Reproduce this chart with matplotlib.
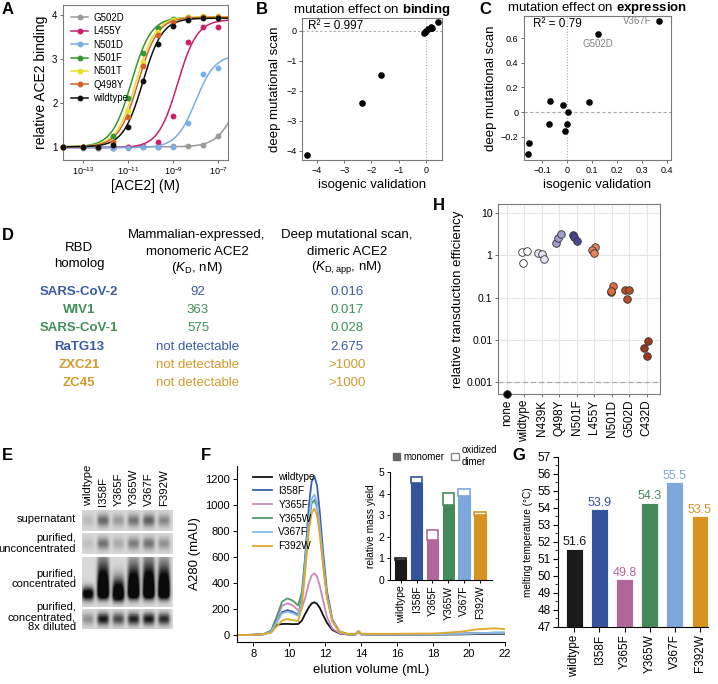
import numpy as np
import matplotlib
matplotlib.use("Agg")
import matplotlib.pyplot as plt
from matplotlib.lines import Line2D
from matplotlib.patches import Patch
from matplotlib.ticker import NullLocator, MultipleLocator

plt.rcParams['font.family'] = ['Liberation Sans', 'DejaVu Sans']
plt.rcParams['mathtext.fontset'] = 'custom'
plt.rcParams['mathtext.rm'] = 'Liberation Sans'
plt.rcParams['mathtext.it'] = 'Liberation Sans:italic'
plt.rcParams['mathtext.bf'] = 'Liberation Sans:bold'

# ---- A: titration curves ----
conc = [1.35e-14, 1e-13, 4.64e-13, 2.15e-12, 1e-11, 4.64e-11, 2.15e-10, 1e-9, 4.64e-9, 2.15e-8, 1e-7]
a_variants = ['G502D', 'L455Y', 'N501D', 'N501F', 'N501T', 'Q498Y', 'wildtype']
a_colors = ['#9a9a9a', '#cc1f6a', '#7aaee6', '#36962f', '#e6df2a', '#d2622a', '#111111']
a_binding = {
    'G502D': [1.0, 1.0, 1.0, 1.0, 1.0, 1.0, 1.0, 1.02, 1.03, 1.05, 1.25],
    'L455Y': [1.0, 1.0, 0.98, 0.98, 1.0, 1.02, 1.12, 1.7, 3.38, 3.73, 3.72],
    'N501D': [1.0, 0.98, 0.98, 0.98, 0.98, 0.99, 1.0, 1.0, 1.55, 2.65, 2.8],
    'N501F': [1.0, 1.0, 1.0, 1.25, 2.12, 3.13, 3.7, 3.9, 3.95, 3.96, 3.96],
    'N501T': [1.0, 1.0, 1.0, 1.12, 1.82, 2.93, 3.62, 3.88, 3.95, 3.97, 3.98],
    'Q498Y': [1.0, 1.0, 1.0, 1.1, 1.67, 2.83, 3.55, 3.85, 3.93, 3.95, 3.95],
    'wildtype': [1.0, 1.0, 1.0, 1.05, 1.45, 2.5, 3.35, 3.75, 3.88, 3.93, 3.93],
}
# fitted log10 K_D, bottom, top
a_fit = {
    'G502D': (-6.3, 1.0, 2.5),
    'L455Y': (-8.8, 0.98, 3.9),
    'N501D': (-8.0, 0.98, 3.1),
    'N501F': (-10.85, 1.0, 3.95),
    'N501T': (-10.65, 1.0, 3.96),
    'Q498Y': (-10.55, 1.0, 3.95),
    'wildtype': (-10.35, 1.0, 3.93),
}

# ---- B / C: scatter ----
b_iso = [-4.37, -2.34, -1.65, -0.08, -0.03, 0.02, 0.08, 0.17, 0.2, 0.23, 0.43]
b_dms = [-4.15, -2.4, -1.48, -0.06, -0.04, -0.01, 0.05, 0.1, 0.14, 0.1, 0.3]
c_iso = [0.367, 0.123, -0.071, -0.019, 0.085, 0.003, -0.073, -0.003, -0.008, -0.153, -0.157]
c_dms = [0.74, 0.637, 0.093, 0.06, 0.082, 0.0, -0.098, -0.098, -0.158, -0.253, -0.343]

# ---- D: table ----
d_homologs = ['SARS-CoV-2', 'WIV1', 'SARS-CoV-1', 'RaTG13', 'ZXC21', 'ZC45']
d_monomeric = ['92', '363', '575', 'not detectable', 'not detectable', 'not detectable']
d_dimeric = ['0.016', '0.017', '0.028', '2.675', '>1000', '>1000']
d_colors = ['#3b5ba8', '#3f8f5a', '#3f8f5a', '#3b5ba8', '#d39b2c', '#d39b2c']

# ---- E: blot band intensities ----
e_lanes = ['wildtype', 'I358F', 'Y365F', 'Y365W', 'V367F', 'F392W']
e_supernatant = [0.15, 0.55, 0.3, 0.5, 0.6, 0.4]
e_unconc = [0.12, 0.5, 0.22, 0.45, 0.5, 0.35]
e_conc = [1.2, 1.6, 1.5, 1.6, 1.6, 1.6]
e_diluted = [0.35, 0.95, 0.7, 0.9, 0.95, 0.85]
e_row_labels = ['supernatant', 'purified,\nunconcentrated', 'purified,\nconcentrated',
                'purified,\nconcentrated,\n8x diluted']

# ---- F: SEC traces + inset ----
elution = [7.0, 8.0, 8.6, 9.0, 9.3, 9.6, 9.9, 10.2, 10.5, 10.7, 10.9, 11.1, 11.25, 11.4, 11.55,
           11.7, 11.9, 12.1, 12.4, 12.8, 13.3, 13.7, 13.85, 14.0, 14.5, 16.0, 18.0, 19.5, 20.5, 21.5, 22.0]
f_traces = {
    'wildtype': [0, 2, 6, 30, 78, 85, 86, 84, 85, 110, 165, 215, 243, 252, 240, 210, 150, 95, 40, 12,
                 4, 4, 25, 5, 4, 4, 4, 5, 8, 10, 10],
    'I358F': [0, 2, 8, 25, 100, 175, 192, 180, 155, 280, 620, 1000, 1180, 1222, 1150, 950, 620, 340, 120, 28,
              6, 6, 30, 8, 6, 6, 6, 10, 15, 18, 18],
    'Y365F': [0, 2, 8, 30, 120, 225, 245, 228, 190, 205, 290, 400, 458, 475, 450, 380, 255, 140, 50, 14,
              5, 5, 28, 6, 5, 5, 6, 9, 12, 15, 15],
    'Y365W': [0, 2, 8, 35, 140, 255, 282, 265, 228, 330, 600, 880, 1010, 1040, 985, 820, 540, 300, 105, 24,
              6, 6, 30, 8, 6, 6, 6, 10, 15, 18, 18],
    'V367F': [0, 2, 8, 25, 95, 165, 180, 168, 148, 260, 560, 890, 1045, 1080, 1020, 840, 550, 300, 105, 24,
              6, 6, 30, 8, 6, 6, 6, 10, 15, 18, 18],
    'F392W': [0, 2, 8, 18, 65, 112, 123, 116, 108, 210, 500, 800, 940, 972, 920, 770, 510, 290, 110, 26,
              8, 8, 30, 10, 10, 10, 12, 25, 45, 52, 45],
}
f_line_colors = ['#111111', '#3a5fb0', '#cc88bb', '#4f9a68', '#88b8ec', '#e0a82a']
mutants = ['wildtype', 'I358F', 'Y365F', 'Y365W', 'V367F', 'F392W']
bar_colors = ['#1a1a1a', '#34539c', '#b1679d', '#45895a', '#7ea7dc', '#d69320']
yield_total = [1.0, 4.77, 2.33, 4.05, 4.22, 3.15]
yield_monomer = [0.95, 4.49, 1.86, 3.49, 3.88, 3.0]

# ---- G: melting temperature ----
tm = [51.6, 53.9, 49.8, 54.3, 55.5, 53.5]

# ---- H: transduction ----
h_cats = ['none', 'wildtype', 'N439K', 'Q498Y', 'N501F', 'L455Y', 'N501D', 'G502D', 'C432D']
h_colors = ['#000000', '#ffffff', '#e4e2f1', '#a29dd0', '#4d4597', '#e8835a', '#df6c3d', '#b54e27', '#983a1b']
h_values = [[None],
            [0.65, 1.23, 1.3],
            [1.16, 1.07, 0.81],
            [2.0, 2.57, 3.3],
            [3.1, 2.75, 2.2],
            [1.6, 1.38, 1.16],
            [0.19, 0.135, 0.14],
            [0.15, 0.15, 0.093],
            [0.0095, 0.0064, 0.0041]]
h_jitter = [[0.0], [-0.09, -0.14, 0.14], [-0.19, 0.0, 0.11], [-0.18, -0.05, 0.09], [-0.2, -0.15, 0.0],
            [0.05, -0.1, 0.0], [0.1, -0.06, -0.04], [-0.24, -0.03, -0.14], [0.1, -0.13, 0.0]]

W, H = 718, 684
fig = plt.figure(figsize=(W / 100, H / 100), dpi=100)


def box(x0, y0, x1, y1):
    return fig.add_axes([x0 / W, 1 - y1 / H, (x1 - x0) / W, (y1 - y0) / H])


def ftext(x, y, s, **kw):
    fig.text(x / W, 1 - y / H, s, **kw)


def gray_frame(ax):
    for sp in ax.spines.values():
        sp.set_color('#7a7a7a')
        sp.set_linewidth(0.8)
    ax.tick_params(length=2.5, width=0.6, color='#555555', pad=1.5)


# panel letters
for lab, x, y in [('A', 8, 9), ('B', 262, 9), ('C', 485, 10), ('D', 8, 235), ('H', 439, 206),
                  ('E', 7, 455), ('F', 206, 455), ('G', 519, 456)]:
    ftext(x, y, lab, fontsize=12, fontweight='bold', ha='center', va='center')

# ---------------- A ----------------
ax = box(63, 5, 228, 160)
xs = np.logspace(-13.89, -6.56, 300)
for name, col in zip(a_variants, a_colors):
    lk, bot, top = a_fit[name]
    ax.plot(xs, bot + (top - bot) * xs / (xs + 10 ** lk), color=col, lw=1.1, zorder=2)
    ax.plot(conc, a_binding[name], 'o', color=col, ms=3.2, clip_on=False, zorder=3)
ax.set_xscale('log')
ax.set_xlim(10 ** -13.89, 10 ** -6.56)
ax.set_ylim(0.70, 4.23)
ax.set_xticks([1e-13, 1e-11, 1e-9, 1e-7])
ax.set_xticklabels(['10$^{-13}$', '10$^{-11}$', '10$^{-9}$', '10$^{-7}$'], fontsize=6.5)
ax.xaxis.set_minor_locator(NullLocator())
ax.set_yticks([1, 2, 3, 4])
ax.tick_params(axis='y', labelsize=7)
gray_frame(ax)
ax.set_xlabel('[ACE2] (M)', fontsize=10, labelpad=1)
ax.set_ylabel('relative ACE2 binding', fontsize=10, labelpad=3)
handles = [Line2D([0], [0], color=c, marker='o', ms=3.2, lw=1.1) for c in a_colors]
ax.legend(handles, a_variants, loc='upper left', frameon=False, fontsize=7, handlelength=1.8,
          labelspacing=0.35, borderaxespad=0.4, handletextpad=0.5)

# ---------------- B ----------------
ax = box(302, 18, 442, 160)
ax.axhline(0, color='#aaaaaa', lw=0.8, ls=(0, (2, 2)), zorder=1)
ax.axvline(0, color='#aaaaaa', lw=0.8, ls=(0, (1, 1.5)), zorder=1)
ax.scatter(b_iso, b_dms, s=14, color='black', zorder=3)
ax.set_xlim(-4.55, 0.59)
ax.set_ylim(-4.3, 0.43)
ax.set_xticks([-4, -3, -2, -1, 0])
ax.set_yticks([-4, -3, -2, -1, 0])
ax.tick_params(labelsize=6.5)
gray_frame(ax)
ax.text(0.04, 0.985, 'R² = 0.997', transform=ax.transAxes, fontsize=8.5, va='top')
ax.set_title(r'mutation effect on $\mathbf{binding}$', fontsize=9.5, pad=3)
ax.set_xlabel('isogenic validation', fontsize=9.5, labelpad=3)
ax.set_ylabel('deep mutational scan', fontsize=9.5, labelpad=4)

# ---------------- C ----------------
ax = box(524, 16, 671, 160)
ax.axhline(0, color='#aaaaaa', lw=0.8, ls=(0, (3, 2)), zorder=1)
ax.axvline(0, color='#aaaaaa', lw=0.8, ls=(0, (1, 1.5)), zorder=1)
ax.scatter(c_iso, c_dms, s=14, color='black', zorder=3)
ax.set_xlim(-0.173, 0.415)
ax.set_ylim(-0.39, 0.78)
ax.set_xticks([-0.1, 0, 0.1, 0.2, 0.3, 0.4])
ax.set_xticklabels(['−0.1', '0', '0.1', '0.2', '0.3', '0.4'])
ax.set_yticks([-0.2, 0, 0.2, 0.4, 0.6])
ax.set_yticklabels(['−0.2', '0', '0.2', '0.4', '0.6'])
ax.tick_params(labelsize=6.5)
gray_frame(ax)
ax.text(c_iso[0] - 0.03, c_dms[0], 'V367F', color='#808080', fontsize=7, ha='right', va='center')
ax.text(c_iso[1], c_dms[1] - 0.045, 'G502D', color='#808080', fontsize=7, ha='center', va='top')
ax.text(0.06, 0.985, 'R² = 0.79', transform=ax.transAxes, fontsize=8.5, va='top')
ax.set_title(r'mutation effect on $\mathbf{expression}$', fontsize=9.5, pad=3)
ax.set_xlabel('isogenic validation', fontsize=9.5, labelpad=3)
ax.set_ylabel('deep mutational scan', fontsize=9.5, labelpad=3)

# ---------------- D ----------------
fs = 9.5
ftext(79, 248, 'RBD', fontsize=fs, ha='center', va='center')
ftext(79, 264, 'homolog', fontsize=fs, ha='center', va='center')
ftext(197, 235, 'Mammalian-expressed,', fontsize=fs, ha='center', va='center')
ftext(197, 252, 'monomeric ACE2', fontsize=fs, ha='center', va='center')
ftext(197, 268, r'($\it{K}_{\mathrm{D}}$, nM)', fontsize=fs, ha='center', va='center')
ftext(347, 235, 'Deep mutational scan,', fontsize=fs, ha='center', va='center')
ftext(347, 252, 'dimeric ACE2', fontsize=fs, ha='center', va='center')
ftext(347, 268, r'($\it{K}_{\mathrm{D,app}}$, nM)', fontsize=fs, ha='center', va='center')
for i, (hname, mono, dim, col) in enumerate(zip(d_homologs, d_monomeric, d_dimeric, d_colors)):
    y = 292 + i * 18.2
    ftext(79, y, hname, fontsize=fs, fontweight='bold', color=col, ha='center', va='center')
    ftext(198, y, mono, fontsize=fs, color=col, ha='center', va='center')
    ftext(347, y, dim, fontsize=fs, color=col, ha='center', va='center')

# ---------------- H ----------------
ax = box(498, 204, 660, 394)
ax.set_yscale('log')
ax.set_ylim(10 ** -3.29, 10 ** 1.22)
ax.set_xlim(-0.5, 8.76)
ax.set_yticks([10, 1, 0.1, 0.01, 0.001])
ax.set_yticklabels(['10', '1', '0.1', '0.01', '0.001'])
ax.yaxis.set_minor_locator(NullLocator())
ax.set_xticks(range(len(h_cats)))
ax.set_xticklabels(h_cats, rotation=90, fontsize=8.5)
ax.tick_params(axis='y', labelsize=7.5)
ax.grid(True, color='#e6e6e6', lw=0.8)
ax.set_axisbelow(True)
ax.axhline(0.001, color='#aaaaaa', lw=0.9, ls=(0, (4, 2.5)), zorder=1)
for i, (vals, jit, col) in enumerate(zip(h_values, h_jitter, h_colors)):
    for v, j in zip(vals, jit):
        yv = 10 ** -3.29 if v is None else v
        ax.scatter(i + j, yv, s=30, facecolor=col, edgecolor='#333333', lw=0.6, zorder=3, clip_on=False)
gray_frame(ax)
ax.set_ylabel('relative transduction efficiency', fontsize=9.5, labelpad=2)

# ---------------- E ----------------
ax = box(82, 510, 173, 629)
nrow, ncol = 119, 91
yy, xx = np.mgrid[0:nrow, 0:ncol] + 0.5
lane_x = 6 + 15.2 * np.arange(len(e_lanes))
sections = [(0, 21, e_supernatant, [0.5] * 6, [0.3] * 6, 0.3),
            (23, 44, e_unconc, [0.5] * 6, [0.3] * 6, 0.3),
            (47, 97, e_conc, [0.74, 0.72, 0.76, 0.72, 0.72, 0.72], [0.14, 0.6, 0.32, 0.55, 0.6, 0.55], 0.13),
            (99, 119, e_diluted, [0.5] * 6, [0.3] * 6, 0.3)]
img = np.ones((nrow, ncol))
for y0, y1, vals, cen, up, dn in sections:
    h = y1 - y0
    ly = yy[y0:y1] - y0
    dark = np.zeros((h, ncol))
    for j, v in enumerate(vals):
        gx = np.exp(-((xx[y0:y1] - lane_x[j]) / 6.0) ** 4)
        cy = cen[j] * h
        gy = np.where(ly < cy, np.exp(-((ly - cy) / (up[j] * h)) ** 2), np.exp(-((ly - cy) / (dn * h)) ** 2))
        dark += v * gx * gy
    img[y0:y1] = 0.85 * (1 - 0.95 * np.clip(dark, 0, 1))
ax.imshow(img, cmap='gray', vmin=0, vmax=1, extent=(0, ncol, nrow, 0), aspect='auto',
          interpolation='bilinear')
ax.axis('off')
for j, name in enumerate(e_lanes):
    ftext(82 + lane_x[j], 506, name, rotation=90, ha='center', va='bottom', fontsize=8.2)
for lab, y in zip(e_row_labels, [519, 543.5, 579, 617]):
    ftext(76, y, lab, ha='right', va='center', fontsize=8, linespacing=1.05)

# ---------------- F ----------------
ax = box(237, 466, 505, 641.7)
for (name, vals), col in zip(f_traces.items(), f_line_colors):
    ax.plot(elution, vals, color=col, lw=1.3, label=name)
ax.set_xlim(7.1, 22)
ax.set_ylim(-51, 1300)
ax.set_xticks(range(8, 23, 2))
ax.set_yticks(range(0, 1201, 200))
ax.spines['top'].set_visible(False)
ax.spines['right'].set_visible(False)
ax.tick_params(labelsize=8, length=3, width=0.7, pad=2)
ax.set_xlabel('elution volume (mL)', fontsize=9.5, labelpad=4)
ax.set_ylabel('A280 (mAU)', fontsize=9.5, labelpad=3)
ax.legend(loc='upper left', bbox_to_anchor=(248 / W, 1 - 467 / H), bbox_transform=fig.transFigure,
          frameon=False, fontsize=7.3, handlelength=1.9, labelspacing=0.38, borderpad=0, handletextpad=0.6)

ax = box(390, 472.3, 491.7, 580)
xi = np.arange(len(mutants))
ax.bar(xi, yield_monomer, width=0.72, color=bar_colors, edgecolor=bar_colors, lw=0.8)
ax.bar(xi, np.array(yield_total) - np.array(yield_monomer), bottom=yield_monomer, width=0.72,
       color='white', edgecolor=bar_colors, lw=1.2)
ax.set_xlim(-0.67, 5.73)
ax.set_ylim(0, 5)
ax.set_yticks(range(6))
ax.set_xticks(xi)
ax.set_xticklabels(mutants, rotation=90, fontsize=7.6)
ax.spines['top'].set_visible(False)
ax.spines['right'].set_visible(False)
ax.tick_params(labelsize=7.5, length=2.5, width=0.7, pad=1.5)
ax.set_ylabel('relative mass yield', fontsize=7.3, labelpad=2)
fig.legend([Patch(fc='#666666', ec='#666666'), Patch(fc='white', ec='#888888', lw=1)],
           ['monomer', 'oxidized\ndimer'], ncol=2, loc='center left', bbox_to_anchor=(388 / W, 1 - 456 / H),
           frameon=False, fontsize=7, handlelength=0.75, handleheight=0.75, columnspacing=0.7,
           handletextpad=0.35, borderpad=0, labelspacing=0)

# ---------------- G ----------------
ax = box(558.3, 456.7, 708, 626.7)
ax.bar(xi, np.array(tm) - 47, bottom=47, width=0.67, color=bar_colors, edgecolor='white', lw=0.6)
for i, (v, col) in enumerate(zip(tm, bar_colors)):
    ax.text(i, v + 0.03, f'{v:.1f}', color=col, ha='center', va='bottom', fontsize=9)
ax.set_xlim(-0.64, 5.32)
ax.set_ylim(47, 57)
ax.set_yticks(range(47, 58))
ax.yaxis.set_minor_locator(MultipleLocator(0.5))
ax.set_xticks(xi)
ax.set_xticklabels(mutants, rotation=90, fontsize=9.2)
ax.spines['top'].set_visible(False)
ax.spines['right'].set_visible(False)
ax.tick_params(labelsize=8.5, length=3.5, width=0.8, pad=2)
ax.tick_params(which='minor', length=2, width=0.6)
ax.set_ylabel('melting temperature (°C)', fontsize=7.2, labelpad=3)

fig.savefig('out.png', dpi=100)
